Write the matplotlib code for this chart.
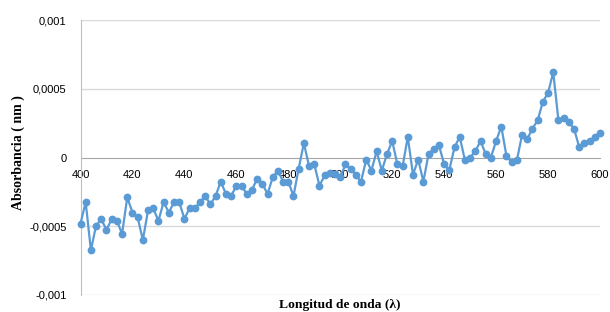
import numpy as np
import matplotlib.pyplot as plt
from matplotlib.ticker import FuncFormatter

# wavelength (nm), one reading every 2 nm
wavelength = np.arange(400, 601, 2)

# absorbance (x 1e-4)
absorbance_e4 = [
    -4.8, -3.25, -6.75, -4.95, -4.5, -5.25, -4.5, -4.6, -5.55, -2.9,
    -4.0, -4.35, -6.0, -3.85, -3.7, -4.6, -3.25, -4.0, -3.25, -3.25,
    -4.45, -3.7, -3.7, -3.25, -2.8, -3.4, -2.8, -1.75, -2.65, -2.8,
    -2.05, -2.05, -2.65, -2.35, -1.55, -1.9, -2.65, -1.45, -0.95, -1.75,
    -1.75, -2.8, -0.8, 1.05, -0.65, -0.5, -2.05, -1.3, -1.1, -1.2,
    -1.45, -0.5, -0.8, -1.3, -1.75, -0.15, -0.95, 0.45, -0.95, 0.25,
    1.2, -0.5, -0.65, 1.5, -1.25, -0.15, -1.75, 0.25, 0.6, 0.9,
    -0.5, -0.9, 0.75, 1.5, -0.2, 0.0, 0.45, 1.2, 0.25, 0.0,
    1.2, 2.25, 0.1, -0.35, -0.2, 1.65, 1.35, 2.1, 2.7, 4.05,
    4.7, 6.2, 2.7, 2.85, 2.55, 2.1, 0.75, 1.05, 1.2, 1.5,
    1.8,
]
absorbance = np.array(absorbance_e4) * 1e-4

x_ticks = list(range(400, 601, 20))
y_ticks = [-0.001, -0.0005, 0, 0.0005, 0.001]

W, H = 610, 312
fig = plt.figure(figsize=(W / 100, H / 100), dpi=100)
ax = fig.add_axes([80.5 / W, 1 - 295 / H, (600 - 80.5) / W, (295 - 20) / H])

ax.set_xlim(400, 600)
ax.set_ylim(-0.001, 0.001)
ax.set_xticks(x_ticks)
ax.set_yticks(y_ticks)

def comma_fmt(v, pos):
    if abs(v) < 1e-12:
        return "0"
    return "{:g}".format(v).replace(".", ",")

ax.yaxis.set_major_formatter(FuncFormatter(comma_fmt))

for y in [-0.001, -0.0005, 0.0005, 0.001]:
    ax.axhline(y, color="#D9D9D9", lw=1, zorder=1)

for s in ["top", "right"]:
    ax.spines[s].set_visible(False)
ax.spines["left"].set_color("#BFBFBF")
ax.spines["bottom"].set_position(("data", 0))
ax.spines["bottom"].set_color("#A6A6A6")
ax.spines["bottom"].set_zorder(1)

ax.tick_params(axis="both", length=0, labelsize=8, labelcolor="black")
ax.tick_params(axis="x", pad=9)
ax.tick_params(axis="y", pad=10)
for lab in ax.get_xticklabels() + ax.get_yticklabels():
    lab.set_fontfamily("Liberation Sans")

ax.plot(wavelength, absorbance, color="#5B9BD5", lw=1.6, marker="o",
        markersize=4.6, clip_on=False, zorder=3)

fig.text(340 / W, 1 - 305 / H, "Longitud de onda (λ)", ha="center", va="center",
         fontsize=9.7, fontweight="bold", family="Liberation Serif")
fig.text(18 / W, 1 - 153 / H, "Absorbancia ( nm )", ha="center", va="center",
         rotation=90, fontsize=10, fontweight="bold", family="Liberation Serif")

fig.savefig("out.png", dpi=100)
